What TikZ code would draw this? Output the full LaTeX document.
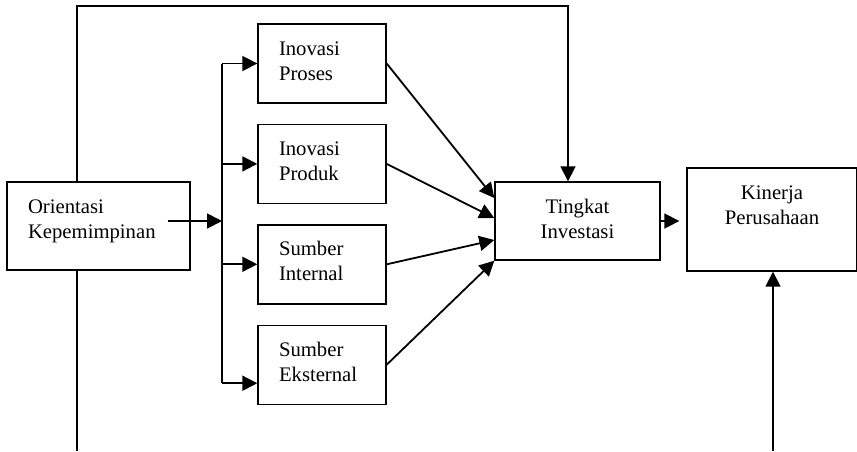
\documentclass[tikz,border=0pt]{standalone}
\usepackage{fontspec}
\setmainfont{Liberation Serif}
\usepackage{tikz}
\usetikzlibrary{arrows.meta,calc,positioning}
\newcommand{\boxtext}[4][\raggedright]{\parbox[c][#2][t]{#3}{#1\vspace*{13.5pt}\strut #4}}

\begin{document}
\begin{tikzpicture}[x=1pt,y=-1pt,>={Triangle[length=15pt,width=15pt]},
    font=\fontsize{20.7}{25}\selectfont,node distance=20pt,
    box/.style={draw,line width=1.4pt,inner ysep=0pt},
    line/.style={line width=1.6pt},
    arr/.style={line width=1.8pt,->}]
        \useasboundingbox (0,0) rectangle (857,451);
        \node[box,inner xsep=21pt] (ori) at (98.5,226) {\boxtext{88pt}{141pt}{Orientasi\\Kepemimpinan}};
        \node[box,inner xsep=21pt] (proses) at (322,63.5) {\boxtext{79pt}{86pt}{Inovasi\\Proses}};
        \node[box,inner xsep=21pt,below=of proses] (produk) {\boxtext{79pt}{86pt}{Inovasi\\Produk}};
        \node[box,inner xsep=21pt,below=of produk] (internal) {\boxtext{79pt}{86pt}{Sumber\\Internal}};
        \node[box,inner xsep=21pt,below=of internal] (eks) {\boxtext{79pt}{86pt}{Sumber\\Eksternal}};
        \node[box,inner xsep=0pt] (ting) at (577.5,221) {\boxtext[\centering]{78pt}{165pt}{Tingkat\\Investasi}};
        \node[box,inner xsep=0pt] (kin) at (772,219.5) {\boxtext[\centering]{103pt}{170pt}{Kinerja\\Perusahaan}};
        % bus and free ends
        \coordinate (bus) at (222,221);
        \coordinate (eksin) at ($(eks.west)+(0,18.5)$);
        \coordinate (lefttop) at (77,6);
        \coordinate (leftbot) at (77,451);
        \coordinate (tingin) at ($(ting.north)+(-9.5,0)$);
        \coordinate (kinbot) at (773,451);
        \draw[arr] ($(ori.east)+(-23,-5)$) -- (bus);
        \draw[line] (proses.west -| bus) -- (eksin -| bus);
        \foreach \n in {proses,produk,internal} \draw[arr] (\n.west -| bus) -- (\n.west);
        \draw[arr] (eksin -| bus) -- (eksin);
        \draw[arr] (proses.east) -- ($(ting.west)+(0,-23)$);
        \draw[arr] (produk.east) -- ($(ting.west)+(0,-3)$);
        \draw[arr] (internal.east) -- ($(ting.west)+(0,19)$);
        \draw[arr] (eks.east) -- (ting.south west);
        \draw[arr,shorten >=7pt] (ting.east) -- (ting.east -| kin.west);
        \draw[arr] (ori.north -| lefttop) -- (lefttop) -| (tingin);
        \draw[line] (ori.south -| leftbot) -- (leftbot);
        \draw[arr] (kinbot) -- (kinbot |- kin.south);
      \end{tikzpicture}
\end{document}
